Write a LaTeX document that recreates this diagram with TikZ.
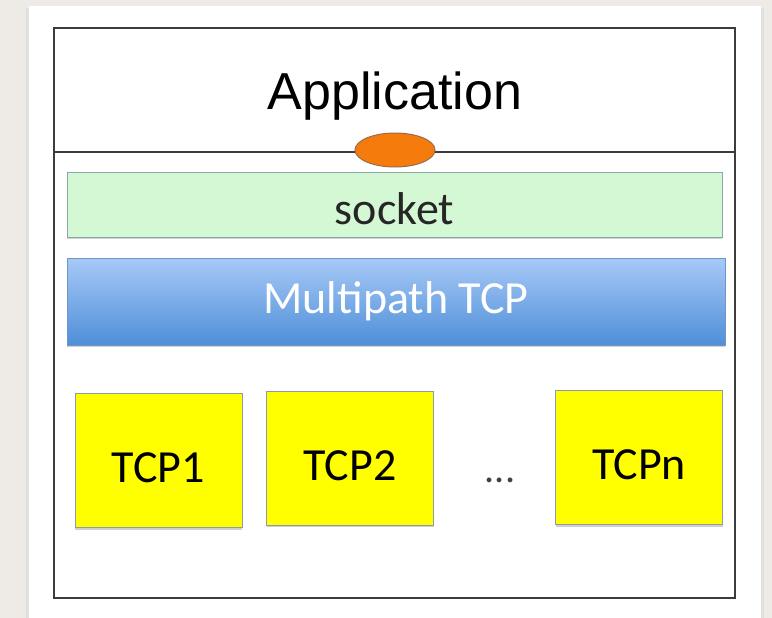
\documentclass[tikz,border=0pt]{standalone}
\usepackage{fontspec}
\setmainfont{Carlito}
\newfontfamily\appfont{Liberation Sans}
\usetikzlibrary{shapes.geometric,shadows}

\definecolor{bggrey}{HTML}{EEEBE6}
\definecolor{frameline}{HTML}{3C3C3C}
\definecolor{apiorange}{HTML}{F57C0C}
\definecolor{apiedge}{HTML}{9C6B4A}
\definecolor{sockgreen}{HTML}{D3F8D3}
\definecolor{sockedge}{HTML}{8AA8A8}
\definecolor{mptop}{HTML}{A7C9F7}
\definecolor{mpbot}{HTML}{4F8FD8}
\definecolor{mpedge}{HTML}{6C97C8}
\definecolor{tcpyellow}{HTML}{FFFF00}
\definecolor{tcpedge}{HTML}{8C9BA9}

\begin{document}
\begin{tikzpicture}[x=1pt,y=-1pt,
  frame/.style={draw=frameline, line width=1.8pt},
  softshadow/.style={drop shadow={shadow xshift=0pt, shadow yshift=-2pt, opacity=.3, fill=black!60}},
  lbl/.style={font=\fontsize{46}{50}\selectfont},
  tcpbox/.style={draw=tcpedge, fill=tcpyellow, line width=1pt, softshadow, lbl,
    minimum width=167pt, minimum height=134pt, inner sep=0pt,
    text height=44pt, text depth=0pt}]
\fill[bggrey] (0,0) rectangle (772,618);
\fill[black!12] (26,8) rectangle (764,618);
\fill[white] (29,6) rectangle (761,618);

\draw[frame] (54,28) rectangle (735,598);
\draw[frame] (54,152) -- (735,152);
\node [font=\appfont\fontsize{52}{56}\selectfont] (app) at (395,96) {Application};
\node [ellipse, draw=apiedge, fill=apiorange, line width=1pt,
  minimum width=80pt, minimum height=34pt] (api) at (395,150) {};

\node [draw=sockedge, fill=sockgreen, line width=1pt, softshadow, lbl,
  text=black!85, minimum width=655pt, minimum height=65pt, inner sep=0pt,
  text height=40pt, text depth=0pt] (sock) at (394.5,204.5) {socket};
\node [draw=mpedge, top color=mptop, bottom color=mpbot, line width=1pt, softshadow, lbl,
  text=white, minimum width=658pt, minimum height=87pt, inner sep=0pt] (mptcp) at (396,301.5) {Multipath TCP};

\node [tcpbox] (tcp1) at (158.5,460.5) {TCP1};
\node [tcpbox] (tcp2) at (350,458) {TCP2};
\node [font=\fontsize{40}{44}\selectfont, text=black!75] (dots) at (500,480) {...};
\node [tcpbox] (tcpn) at (639,457.5) {TCPn};
\end{tikzpicture}
\end{document}
